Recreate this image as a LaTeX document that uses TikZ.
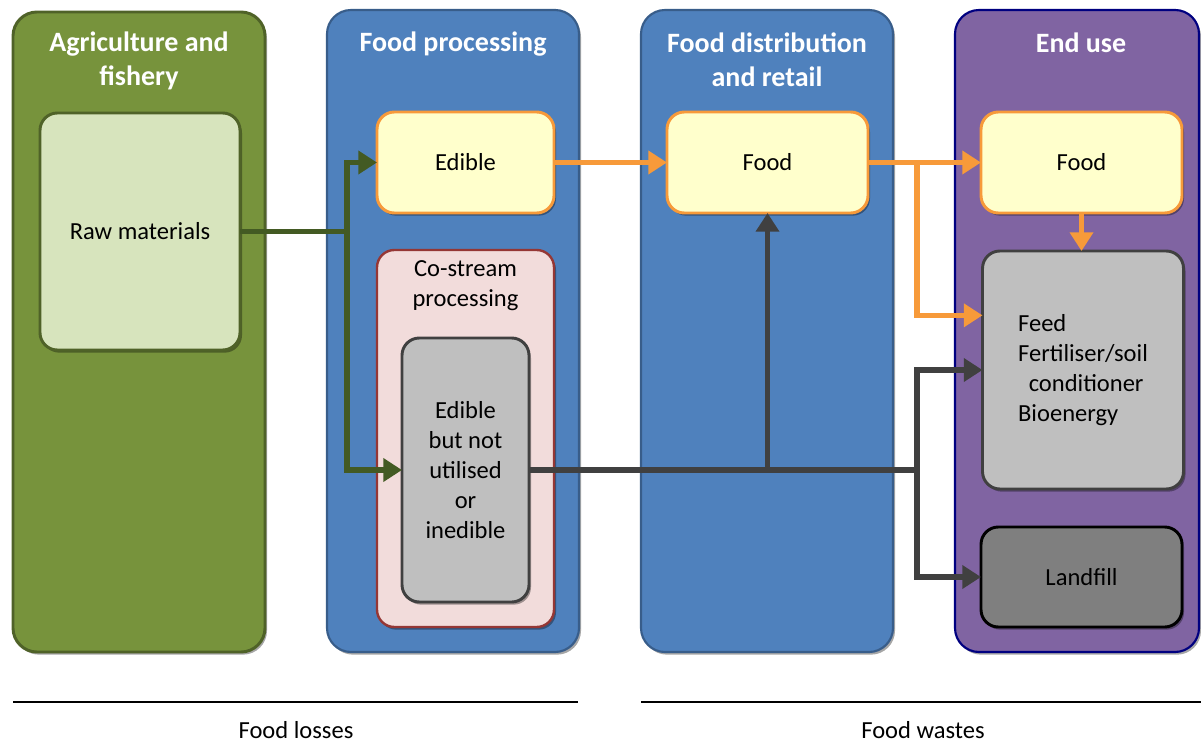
\documentclass[tikz,border=0pt]{standalone}
\usepackage{fontspec}
\setmainfont{Carlito}
\usetikzlibrary{arrows.meta,shadows}
\definecolor{agrifill}{HTML}{77933C}
\definecolor{agriline}{HTML}{4F6228}
\definecolor{rawfill}{HTML}{D7E4BD}
\definecolor{bluefill}{HTML}{4F81BD}
\definecolor{blueline}{HTML}{385D8A}
\definecolor{purplefill}{HTML}{8064A2}
\definecolor{purpleline}{HTML}{000080}
\definecolor{yellowfill}{HTML}{FFFFCC}
\definecolor{orangeline}{HTML}{F79A3A}
\definecolor{pinkfill}{HTML}{F2DCDB}
\definecolor{redline}{HTML}{953735}
\definecolor{greyfill}{HTML}{BFBFBF}
\definecolor{darkgreyfill}{HTML}{7F7F7F}
\definecolor{greyline}{HTML}{404040}
\definecolor{greenarrow}{HTML}{435A23}
\begin{document}
\begin{tikzpicture}[x=0.75pt,y=-0.75pt,
  sz/.style 2 args={minimum width=#1*0.75pt,minimum height=#2*0.75pt},
  shade/.style={drop shadow={shadow xshift=1.5pt,shadow yshift=-2pt,opacity=0.35,fill=black}},
  panel/.style={draw,rounded corners=18pt,inner sep=0pt,outer sep=0pt,shade},
  box/.style={draw,rounded corners=13pt,inner sep=0pt,outer sep=0pt,line width=2.2pt,shade,
    font=\fontsize{18.4}{22.5}\selectfont,align=center},
  title/.style={text=white,font=\bfseries\fontsize{21}{25.5}\selectfont,align=center},
  label/.style={font=\fontsize{18.4}{22.5}\selectfont,align=center},
  flow/.style={line width=3.8pt,-{Triangle[length=14pt,width=17pt]}},
  seg/.style={line width=3.8pt},
]
\useasboundingbox (0,0) rectangle (1201,745);

% stage panels
\node[panel,sz={252}{640},fill=agrifill,draw=agriline,line width=2.2pt] (agri) at (139,332) {};
\node[panel,sz={252}{642},fill=bluefill,draw=blueline,line width=1.6pt] (proc) at (453,331) {};
\node[panel,sz={252}{642},fill=bluefill,draw=blueline,line width=1.6pt] (dist) at (767,331) {};
\node[panel,sz={244}{642},fill=purplefill,draw=purpleline,line width=1.6pt] (enduse) at (1077,331) {};

\node[title] (agriT) at (139,61) {Agriculture and\\fishery};
\node[title] (procT) at (453,44) {Food processing};
\node[title] (distT) at (767,60) {Food distribution\\and retail};
\node[title] (endT) at (1081,43) {End use};

% boxes
\node[box,sz={200}{237},fill=rawfill,draw=agriline] (raw) at (140,231.5) {Raw materials};
\node[box,sz={177}{101},fill=yellowfill,draw=orangeline] (edible) at (465.5,162.5) {Edible};
\node[box,sz={177}{377},fill=pinkfill,draw=redline,line width=1.8pt] (costream) at (465.5,438.5) {};
\node[label] (costreamT) at (465.5,286) {Co-stream\\processing};
\node[box,sz={127}{264},fill=greyfill,draw=greyline] (inedible) at (465.5,470) {Edible\\but not\\utilised\\or\\inedible};
\node[box,sz={201}{101},fill=yellowfill,draw=orangeline] (fooddist) at (767.5,162.5) {Food};
\node[box,sz={201}{101},fill=yellowfill,draw=orangeline] (foodend) at (1081.5,162.5) {Food};
\node[box,sz={201}{238},fill=greyfill,draw=greyline,align=left] (feed) at (1083,370)
  {Feed\\Fertiliser/soil\\\hspace{8pt}conditioner\\Bioenergy};
\node[box,sz={201}{100},fill=darkgreyfill,draw=black] (landfill) at (1081.5,577) {Landfill};

% raw materials split
\coordinate (j1) at (347,231.5);
\draw[seg,draw=greenarrow] (raw.east) -- (j1);
\draw[flow,draw=greenarrow] (j1) |- (edible.west);
\draw[flow,draw=greenarrow] (j1) |- (inedible.west);

% edible food chain
\draw[flow,draw=orangeline] (edible.east) -- (fooddist.west);
\draw[flow,draw=orangeline] (fooddist.east) -- (foodend.west);
\coordinate (j2) at (917,162.5);
\draw[flow,draw=orangeline] (j2) |- ([yshift=41pt]feed.west);
\draw[flow,draw=orangeline] (foodend.south) -- (foodend.south |- feed.north);

% side streams
\coordinate (j3) at (917,470);
\coordinate (j4) at (fooddist.south |- inedible.east);
\draw[seg,draw=greyline] (inedible.east) -- (j3);
\draw[flow,draw=greyline] (j4) -- (fooddist.south);
\draw[flow,draw=greyline] (j3) |- (feed.west);
\draw[flow,draw=greyline] (j3) |- (landfill.west);

% losses / wastes brackets
\coordinate (l1) at (13,702);
\coordinate (l2) at (578,702);
\coordinate (w1) at (641,702);
\coordinate (w2) at (1201,702);
\draw[line width=2.2pt] (l1) -- (l2);
\draw[line width=2.2pt] (w1) -- (w2);
\node[label] (losses) at (296,730) {Food losses};
\node[label] (wastes) at (923,730) {Food wastes};
\end{tikzpicture}
\end{document}
